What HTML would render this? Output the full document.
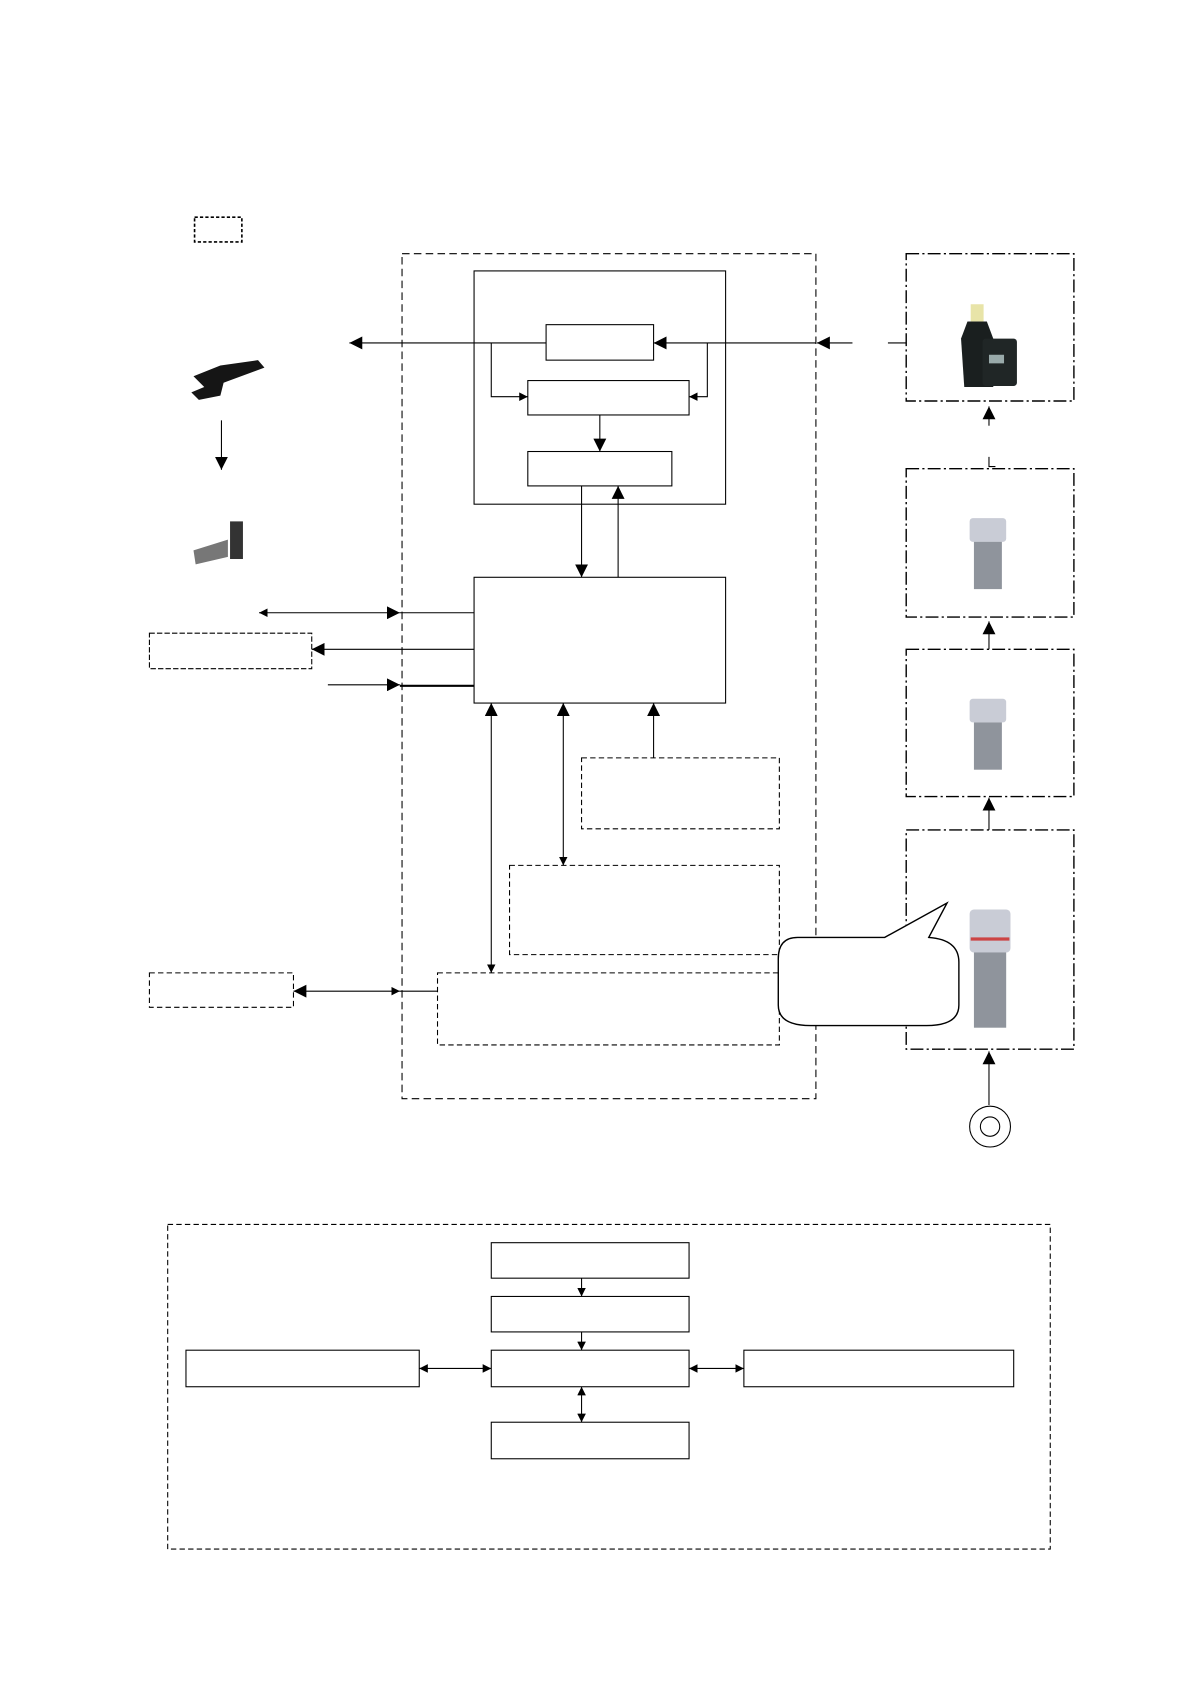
<!DOCTYPE html>
<html><head><meta charset="utf-8"><style>html,body{margin:0;padding:0;background:#fff}svg{display:block}</style></head>
<body>
<svg width="1190" height="1684" viewBox="0 0 1107 1566.5" xmlns="http://www.w3.org/2000/svg">
<defs>
<marker id="a" viewBox="0 0 10 10" refX="10" refY="5" markerWidth="12" markerHeight="12" markerUnits="userSpaceOnUse" orient="auto-start-reverse"><path d="M0,0L10,5L0,10z" fill="#000"/></marker>
<marker id="s" viewBox="0 0 10 10" refX="10" refY="5" markerWidth="8" markerHeight="8" markerUnits="userSpaceOnUse" orient="auto-start-reverse"><path d="M0,0L10,5L0,10z" fill="#000"/></marker>
</defs>
<g fill="none" stroke="#000" stroke-width="1">
<rect x="181" y="202" width="44" height="23" stroke-dasharray="3,2" stroke-width="1.5"/>
<rect x="374" y="236" width="385" height="786" stroke-dasharray="7,4"/>
<rect x="441" y="252" width="234" height="217"/>
<rect x="508" y="302" width="100" height="33"/>
<rect x="491" y="354" width="150" height="32"/>
<rect x="491" y="420" width="134" height="32"/>
<line x1="793" y1="319" x2="760" y2="319" marker-end="url(#a)"/>
<line x1="826" y1="319" x2="843" y2="319"/>
<line x1="759" y1="319" x2="608" y2="319" marker-end="url(#a)"/>
<polyline points="658,319 658,369 641,369" marker-end="url(#s)"/>
<line x1="508" y1="319" x2="325" y2="319" marker-end="url(#a)"/>
<polyline points="457,319 457,369 491,369" marker-end="url(#s)"/>
<line x1="558" y1="386" x2="558" y2="420" marker-end="url(#a)"/>
<line x1="541" y1="452" x2="541" y2="537" marker-end="url(#a)"/>
<line x1="575" y1="537" x2="575" y2="452" marker-end="url(#a)"/>
<rect x="441" y="537" width="234" height="117"/>
<line x1="241" y1="570" x2="372" y2="570" marker-start="url(#s)" marker-end="url(#a)"/>
<line x1="372" y1="570" x2="441" y2="570"/>
<rect x="139" y="589" width="151" height="33" stroke-dasharray="5,2"/>
<line x1="441" y1="604" x2="290" y2="604" marker-end="url(#a)"/>
<line x1="305" y1="637" x2="372" y2="637" marker-end="url(#a)"/>
<line x1="372" y1="638" x2="441" y2="638" stroke-width="2"/>
<line x1="457" y1="905" x2="457" y2="654" marker-start="url(#s)" marker-end="url(#a)"/>
<line x1="524" y1="805" x2="524" y2="654" marker-start="url(#s)" marker-end="url(#a)"/>
<line x1="608" y1="705" x2="608" y2="654" marker-end="url(#a)"/>
<rect x="541" y="705" width="184" height="66" stroke-dasharray="5,3"/>
<rect x="474" y="805" width="251" height="83" stroke-dasharray="5,3"/>
<rect x="407" y="905" width="318" height="67" stroke-dasharray="5,3"/>
<rect x="139" y="905" width="134" height="32" stroke-dasharray="5,3"/>
<line x1="372" y1="922" x2="273" y2="922" marker-start="url(#s)" marker-end="url(#a)"/>
<line x1="372" y1="922" x2="407" y2="922"/>
<g stroke-dasharray="12,3,2,3" stroke-width="1.3">
<rect x="843" y="236" width="156" height="137"/>
<rect x="843" y="436" width="156" height="138"/>
<rect x="843" y="604" width="156" height="137"/>
<rect x="843" y="772" width="156" height="204"/>
</g>
<path d="M742,872 L823,872 L881,840 L864,872 Q892,874 892,895 L892,935 Q892,954 862,954 L754,954 Q724,954 724,935 L724,892 Q724,872 742,872 Z" fill="#fff" stroke-width="1.3"/>
<line x1="920" y1="396" x2="920" y2="378" marker-end="url(#a)"/>
<polyline points="920,425 920,434 926,434"/>
<line x1="920" y1="604" x2="920" y2="578" marker-end="url(#a)"/>
<line x1="920" y1="772" x2="920" y2="742" marker-end="url(#a)"/>
<line x1="920" y1="1028" x2="920" y2="978" marker-end="url(#a)"/>
<circle cx="921" cy="1048" r="19"/><circle cx="921" cy="1048" r="9"/>
<line x1="206" y1="391" x2="206" y2="437" marker-end="url(#a)"/>
<rect x="156" y="1139" width="821" height="302" stroke-dasharray="5,3"/>
<rect x="457" y="1156" width="184" height="33"/>
<rect x="457" y="1206" width="184" height="33"/>
<rect x="457" y="1256" width="184" height="34"/>
<rect x="457" y="1323" width="184" height="34"/>
<rect x="173" y="1256" width="217" height="34"/>
<rect x="692" y="1256" width="251" height="34"/>
<line x1="541" y1="1189" x2="541" y2="1206" marker-end="url(#s)"/>
<line x1="541" y1="1239" x2="541" y2="1256" marker-end="url(#s)"/>
<line x1="390" y1="1273" x2="457" y2="1273" marker-start="url(#s)" marker-end="url(#s)"/>
<line x1="641" y1="1273" x2="692" y2="1273" marker-start="url(#s)" marker-end="url(#s)"/>
<line x1="541" y1="1290" x2="541" y2="1323" marker-start="url(#s)" marker-end="url(#s)"/>
</g>
<!-- device images -->
<g>
<rect x="903" y="283" width="12" height="16" fill="#e8e4a8"/>
<path d="M900,299 L918,299 L924,315 L924,360 L897,360 L894,315 Z" fill="#1a1f1f"/>
<rect x="914" y="315" width="32" height="44" rx="3" fill="#202626"/>
<rect x="920" y="330" width="14" height="8" fill="#9aa"/>
<path d="M180,350 L205,340 L240,335 L246,342 L208,356 L205,368 L185,372 L178,365 L190,360 Z" fill="#151515"/>
<path d="M180,512 L212,502 L212,518 L182,525 Z" fill="#777"/>
<rect x="214" y="485" width="12" height="35" fill="#333"/>
<g fill="#c9ccd6"><rect x="902" y="482" width="34" height="22" rx="3"/><rect x="902" y="650" width="34" height="22" rx="3"/><rect x="902" y="846" width="38" height="40" rx="4"/></g>
<g fill="#8f949c"><rect x="906" y="504" width="26" height="44"/><rect x="906" y="672" width="26" height="44"/><rect x="906" y="886" width="30" height="70"/></g>
<rect x="903" y="872" width="36" height="3" fill="#c44"/>
</g>
</svg>
</body></html>
